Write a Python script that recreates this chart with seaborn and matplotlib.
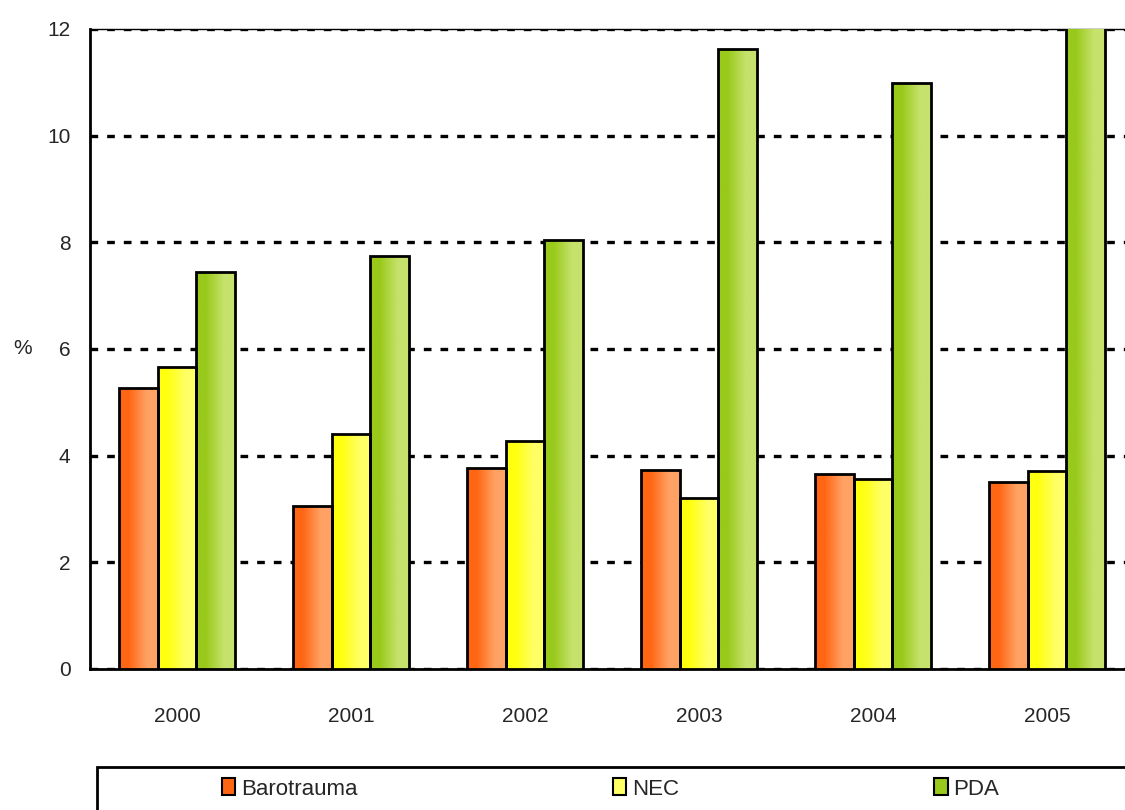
import numpy as np
import pandas as pd
import matplotlib
matplotlib.use("Agg")
import matplotlib.pyplot as plt
import seaborn as sns
from matplotlib.colors import LinearSegmentedColormap
from matplotlib.patches import Patch, Rectangle

years = ["2000", "2001", "2002", "2003", "2004", "2005"]
series = ["Barotrauma", "NEC", "PDA"]
barotrauma = [5.27, 3.06, 3.77, 3.74, 3.66, 3.50]
nec = [5.66, 4.41, 4.27, 3.20, 3.57, 3.72]
pda = [7.44, 7.74, 8.04, 11.62, 10.98, 12.6]

df = pd.DataFrame({
    "year": years * 3,
    "series": [s for s in series for _ in years],
    "value": barotrauma + nec + pda,
})

dark = {"Barotrauma": "#ff6614", "NEC": "#ffff10", "PDA": "#99c91a"}
light = {"Barotrauma": "#ffa264", "NEC": "#ffff66", "PDA": "#c6e26c"}

sns.set_style("white")
plt.rcParams["font.family"] = ["Liberation Sans", "DejaVu Sans"]

fig = plt.figure(figsize=(11.25, 8.1), dpi=100)
ax = fig.add_axes([90 / 1125, (810 - 669) / 810, 1044 / 1125, 640 / 810])

sns.barplot(data=df, x="year", y="value", hue="series", palette=dark,
            width=0.67, gap=0, edgecolor="black", linewidth=2,
            legend=False, ax=ax, zorder=3)

ymax = 12
# horizontal gradient inside every bar
for bars, s in zip(ax.containers, series):
    cmap = LinearSegmentedColormap.from_list(
        s, [(0, dark[s]), (0.25, dark[s]), (0.72, light[s]), (1, light[s])])
    for b in bars:
        x0, y0 = b.get_x(), b.get_y()
        w, h = b.get_width(), b.get_height()
        im = ax.imshow(np.linspace(0, 1, 64).reshape(1, -1), cmap=cmap,
                       extent=[x0, x0 + w, y0, min(y0 + h, ymax)], aspect="auto",
                       zorder=3.5, interpolation="bilinear")
        im.set_clip_path(b)
        b.set_facecolor("none")
        b.set_zorder(4)

ax.set_xlim(-0.5, 5.5)
ax.set_ylim(0, ymax)
ax.set_yticks(range(0, 13, 2))
ax.set_xticks(np.arange(-0.5, 6, 1))
ax.set_xticklabels([])
ax.set_xticks(range(6), minor=True)
ax.set_xticklabels(years, minor=True)
ax.tick_params(axis="x", which="major", direction="out", length=12, width=1.5)
ax.tick_params(axis="x", which="minor", length=0, pad=27, labelsize=15)
ax.tick_params(axis="y", direction="inout", length=12, width=1.5, labelsize=15, pad=8)

ax.yaxis.grid(True, color="black", linestyle=(0, (2.3, 2.7)), linewidth=2.4)
ax.set_axisbelow(True)

ax.set_xlabel("")
ax.set_ylabel("%", rotation=0, fontsize=15, va="center", ha="center")
ax.yaxis.set_label_coords(-0.065, 0.5)

for side in ["left", "bottom"]:
    ax.spines[side].set_linewidth(2)
    ax.spines[side].set_color("black")
ax.spines["top"].set_linewidth(1)
ax.spines["top"].set_color("black")
ax.spines["right"].set_visible(False)

# legend box
fig.patches.append(Rectangle((97 / 1125, -0.05), 1.1, (810 - 767) / 810 + 0.05,
                             transform=fig.transFigure, fill=False,
                             edgecolor="black", linewidth=2))
handles = [Patch(facecolor=light[s] if s == "NEC" else dark[s], edgecolor="black",
                 linewidth=1.5) for s in series]
fig.legend(handles, series, loc="center left",
           bbox_to_anchor=(222 / 1125, (810 - 789) / 810), ncol=3, frameon=False,
           fontsize=16, handlelength=0.6, handleheight=0.8, handletextpad=0.25,
           columnspacing=11.5, borderpad=0, borderaxespad=0)

fig.savefig("out.png", dpi=100)
